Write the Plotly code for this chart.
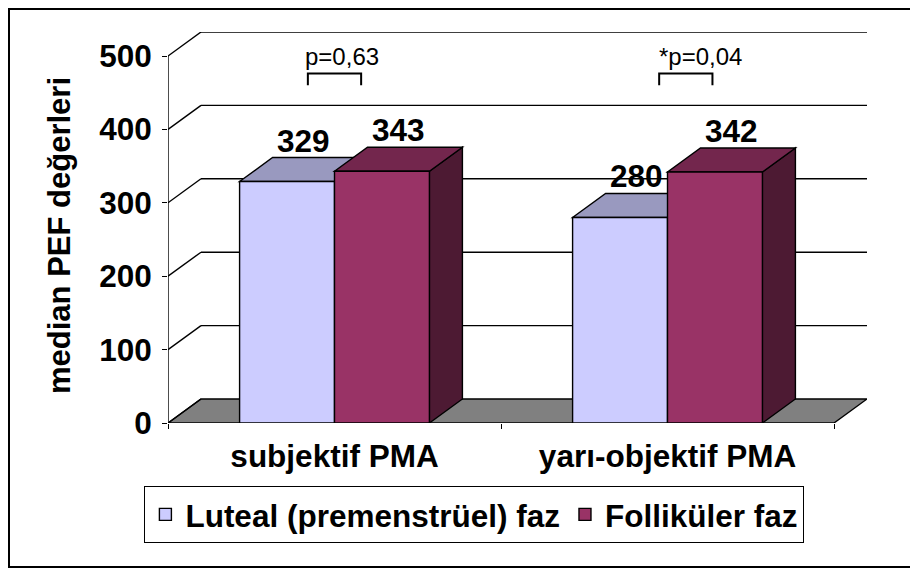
import plotly.graph_objects as go

# ---------------- data ----------------
categories = ["subjektif PMA", "yarı-objektif PMA"]
series_names = ["Luteal (premenstrüel) faz", "Folliküler faz"]
luteal = [329, 280]
follikuler = [343, 342]
y_ticks = [0, 100, 200, 300, 400, 500]
p_labels = ["p=0,63", "*p=0,04"]
y_title = "median PEF değerleri"

# ---------------- style ----------------
FONT = "Liberation Sans, Arial, sans-serif"
FS = 31.5
front_colors = ["#CCCCFF", "#993366"]
top_colors = ["#9999BF", "#73264D"]
side_colors = ["#7A7A99", "#4D1A33"]
# the page body adds an 8px margin, so the figure is sized to fit inside it
W, H = 910, 561
ML, MR, MT, MB = 160, 51, 24, 146
DX = 0.0991      # depth offset in x units
DY = 32.7        # depth offset in y units
BARGAP = 0.43
LW = 1.4

ncat = len(categories)
xc = [i + 0.5 for i in range(ncat)]
series = [luteal, follikuler]
nser = len(series)
bw = (1 - BARGAP) / nser
pw = W - ML - MR
ph = H - MT - MB

fig = go.Figure()
for s, (name, vals) in enumerate(zip(series_names, series)):
    fig.add_trace(go.Bar(
        x=xc, y=vals, name=name,
        marker=dict(color=front_colors[s], line=dict(color="black", width=LW)),
        hoverinfo="skip",
    ))

shapes = []
# floor
shapes.append(dict(type="path", xref="x", yref="y", layer="below",
                   path=f"M0,0 L{ncat},0 L{ncat+DX},{DY} L{DX},{DY} Z",
                   fillcolor="#808080", line=dict(color="black", width=LW)))
# back wall grid lines and side wall diagonals
for v in y_ticks:
    if v > 0:
        shapes.append(dict(type="line", xref="x", yref="y", layer="below",
                           x0=DX, x1=ncat + DX, y0=v + DY, y1=v + DY,
                           line=dict(color="black", width=LW)))
    shapes.append(dict(type="line", xref="x", yref="y", layer="below",
                       x0=0, x1=DX, y0=v, y1=v + DY,
                       line=dict(color="black", width=LW)))
# front vertical axis line
shapes.append(dict(type="line", xref="x", yref="y", layer="above",
                   x0=0, x1=0, y0=0, y1=y_ticks[-1],
                   line=dict(color="black", width=LW)))

annotations = []
# 3D faces of bars
for i in range(ncat):
    for s in range(nser):
        v = series[s][i]
        x0 = xc[i] - (1 - BARGAP) / 2 + s * bw
        x1 = x0 + bw
        shapes.append(dict(type="path", xref="x", yref="y", layer="below",
                           path=f"M{x1},0 L{x1+DX},{DY} L{x1+DX},{v+DY} L{x1},{v} Z",
                           fillcolor=side_colors[s], line=dict(color="black", width=LW)))
        shapes.append(dict(type="path", xref="x", yref="y", layer="below",
                           path=f"M{x0},{v} L{x1},{v} L{x1+DX},{v+DY} L{x0+DX},{v+DY} Z",
                           fillcolor=top_colors[s], line=dict(color="black", width=LW)))
        annotations.append(dict(x=(x0 + x1) / 2 + DX / 2, y=v + DY, xref="x", yref="y",
                                text=str(v), showarrow=False, yanchor="bottom", yshift=-3,
                                font=dict(family=FONT, size=FS, color="black", weight="bold")))

# significance brackets and p-values
br_centers = [0.5, 1.555]
br_half = 0.08
txt_centers = [0.523, 1.598]
for i in range(ncat):
    a, b = br_centers[i] - br_half, br_centers[i] + br_half
    shapes.append(dict(type="path", xref="x", yref="y", layer="above",
                       path=f"M{a},460 L{a},476 L{b},476 L{b},460",
                       line=dict(color="black", width=2)))
    annotations.append(dict(x=txt_centers[i], y=478, xref="x", yref="y",
                            text=p_labels[i], showarrow=False, yanchor="bottom",
                            font=dict(family=FONT, size=24, color="black")))

# y axis title
annotations.append(dict(x=(51 - ML) / pw, y=(H - MB - 228) / ph, xref="paper", yref="paper",
                        text=y_title, textangle=-90, showarrow=False,
                        xanchor="center", yanchor="middle",
                        font=dict(family=FONT, size=31, color="black", weight="bold")))

# outer chart border
shapes.append(dict(type="rect", xref="paper", yref="paper",
                   x0=(1 - ML) / pw, x1=(W + 20 - ML) / pw,
                   y0=(H - MB - 559) / ph, y1=(H - MB - 1) / ph,
                   line=dict(color="black", width=2), fillcolor="rgba(0,0,0,0)"))

fig.update_layout(
    width=W, height=H,
    margin=dict(l=ML, r=MR, t=MT, b=MB),
    paper_bgcolor="white", plot_bgcolor="rgba(0,0,0,0)",
    barmode="group", bargap=BARGAP, bargroupgap=0,
    shapes=shapes, annotations=annotations,
    font=dict(family=FONT, color="black"),
    showlegend=True,
    legend=dict(orientation="h", xref="container", yref="container",
                x=136 / W, xanchor="left", y=1 - 478 / H, yanchor="top",
                bgcolor="white", bordercolor="black", borderwidth=1.4,
                font=dict(family=FONT, size=FS, color="black", weight="bold"),
                traceorder="normal"),
)
fig.update_xaxes(
    range=[0, ncat + DX], tickvals=xc, ticktext=categories,
    ticks="", showgrid=False, zeroline=False, showline=False,
    tickfont=dict(family=FONT, size=FS, color="black", weight="bold"),
    ticklabelstandoff=11,
    minor=dict(tickvals=list(range(ncat + 1)), ticks="outside", ticklen=5,
               tickcolor="black", tickwidth=LW, showgrid=False),
)
fig.update_yaxes(
    range=[0, y_ticks[-1] + DY], tickvals=y_ticks, ticks="outside", ticklen=5,
    tickcolor="black", tickwidth=LW, showgrid=False, zeroline=False, showline=False,
    tickfont=dict(family=FONT, size=FS, color="black", weight="bold"),
    ticklabelstandoff=4,
)

fig.write_html("out.html")
